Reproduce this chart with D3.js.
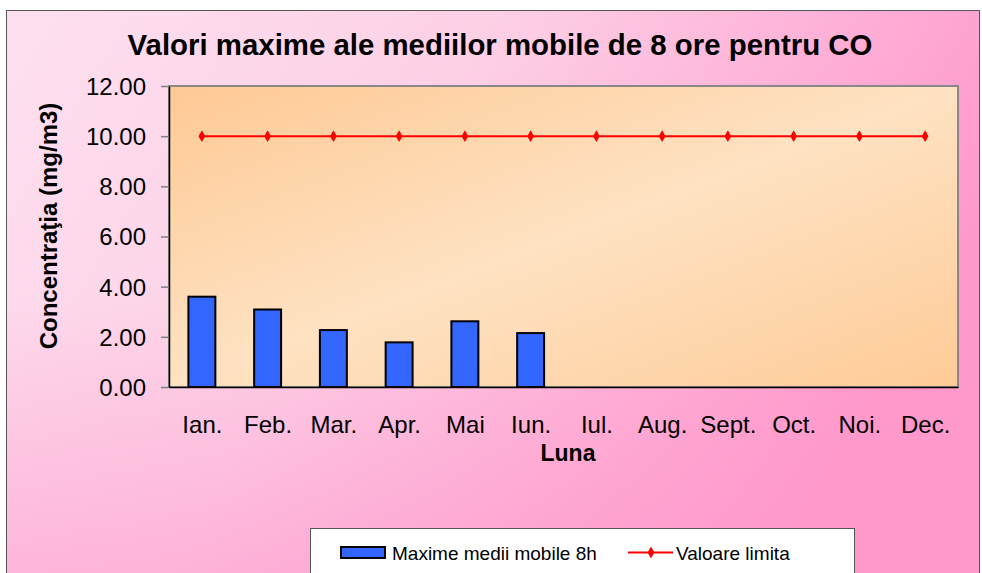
<!DOCTYPE html>
<html><head><meta charset="utf-8">
<script src="https://cdn.jsdelivr.net/npm/d3@7"></script>
<style>body{margin:0;background:#fff}svg{display:block}</style>
</head><body>
<svg id="c" width="982" height="573"></svg>
<script>
const months = ["Ian.","Feb.","Mar.","Apr.","Mai","Iun.","Iul.","Aug.","Sept.","Oct.","Noi.","Dec."];
const maxValues = [3.60, 3.09, 2.27, 1.78, 2.62, 2.15, null, null, null, null, null, null];
const limitValues = [10,10,10,10,10,10,10,10,10,10,10,10];
const yTicks = [0,2,4,6,8,10,12];
const title = "Valori maxime ale mediilor mobile de 8 ore pentru CO";
const yTitle = "Concentraţia (mg/m3)";
const xTitle = "Luna";
const legendLabels = ["Maxime medii mobile 8h","Valoare limita"];

const FONT = "Liberation Sans, Arial, sans-serif";
const svg = d3.select("#c");
const defs = svg.append("defs");
const bg = defs.append("linearGradient").attr("id","bg").attr("x1","0").attr("y1","0").attr("x2","1").attr("y2","0.35");
bg.append("stop").attr("offset","0").attr("stop-color","#fde0ef");
bg.append("stop").attr("offset","0.45").attr("stop-color","#fdd0e6");
bg.append("stop").attr("offset","1").attr("stop-color","#ff99cc");
const bg2 = defs.append("linearGradient").attr("id","bg2").attr("x1","0").attr("y1","0").attr("x2","0").attr("y2","1");
bg2.append("stop").attr("offset","0.5").attr("stop-color","#ff99cc").attr("stop-opacity",0);
bg2.append("stop").attr("offset","1").attr("stop-color","#ff99cc").attr("stop-opacity",0.55);
const pg = defs.append("linearGradient").attr("id","pg").attr("x1","0").attr("y1","0").attr("x2","1").attr("y2","1");
pg.append("stop").attr("offset","0").attr("stop-color","#ffc995");
pg.append("stop").attr("offset","0.5").attr("stop-color","#fee2c2");
pg.append("stop").attr("offset","1").attr("stop-color","#ffcb98");

svg.append("rect").attr("x",6.5).attr("y",10.5).attr("width",973).attr("height",575).attr("fill","url(#bg)");
svg.append("rect").attr("x",6.5).attr("y",10.5).attr("width",973).attr("height",575).attr("fill","url(#bg2)");
svg.append("rect").attr("x",6.5).attr("y",10.5).attr("width",973).attr("height",575).attr("fill","none").attr("stroke","#555").attr("stroke-width",1);

const m = {l:169, r:958, t:86, b:387};
const x = d3.scaleBand().domain(months).range([m.l, m.r]).paddingInner(0.59).paddingOuter(0.295);
const xc = d3.scalePoint().domain(months).range([m.l, m.r]).padding(0.5);
const y = d3.scaleLinear().domain([0,12]).range([m.b, m.t]);

svg.append("rect").attr("x",m.l).attr("y",m.t).attr("width",m.r-m.l).attr("height",m.b-m.t)
  .attr("fill","url(#pg)").attr("stroke","#888").attr("stroke-width",2);

svg.append("g").selectAll("rect").data(months.map((mo,i)=>({mo,v:maxValues[i]})).filter(d=>d.v!=null))
  .join("rect")
  .attr("x",d=>x(d.mo)).attr("width",x.bandwidth())
  .attr("y",d=>y(d.v)).attr("height",d=>y(0)-y(d.v))
  .attr("fill","#3366ff").attr("stroke","#000").attr("stroke-width",2);

const ya = svg.append("g").attr("transform",`translate(${m.l},0)`)
  .call(d3.axisLeft(y).tickValues(yTicks).tickFormat(d3.format(".2f")).tickSize(8).tickSizeOuter(0));
ya.select(".domain").attr("stroke","#000").attr("stroke-width",1.5);
ya.selectAll(".tick line").attr("stroke","#808080").attr("stroke-width",1.5);
ya.selectAll("text").attr("font-family",FONT).attr("font-size",24).attr("fill","#000").attr("x",-23).attr("dy","0.35em");

const xa = svg.append("g").attr("transform",`translate(0,${m.b})`)
  .call(d3.axisBottom(xc).tickSize(0).tickSizeOuter(0));
xa.select(".domain").attr("stroke","#000").attr("stroke-width",1.5);
xa.selectAll("text").attr("font-family",FONT).attr("font-size",24).attr("fill","#000").attr("y",46).attr("dy","0");

const line = d3.line().x((d,i)=>xc(months[i])).y(d=>y(d));
svg.append("path").datum(limitValues).attr("d",line).attr("fill","none").attr("stroke","#ff0000").attr("stroke-width",2);
const diamond = d3.symbol().type(d3.symbolDiamond).size(40);
svg.append("g").selectAll("path").data(limitValues).join("path")
  .attr("d",diamond).attr("transform",(d,i)=>`translate(${xc(months[i])},${y(d)})`).attr("fill","#ff0000");

svg.append("text").attr("x",500).attr("y",55).attr("text-anchor","middle")
  .attr("font-family",FONT).attr("font-weight","bold").attr("font-size",29.4)
  .text(title);
svg.append("text").attr("transform","translate(57,226) rotate(-90)").attr("text-anchor","middle")
  .attr("font-family",FONT).attr("font-weight","bold").attr("font-size",24)
  .text(yTitle);
svg.append("text").attr("x",568).attr("y",461).attr("text-anchor","middle")
  .attr("font-family",FONT).attr("font-weight","bold").attr("font-size",23)
  .text(xTitle);

svg.append("rect").attr("x",310.5).attr("y",528.5).attr("width",544).attr("height",60).attr("fill","#fff").attr("stroke","#555").attr("stroke-width",1);
svg.append("rect").attr("x",341).attr("y",547).attr("width",44).attr("height",11).attr("fill","#3366ff").attr("stroke","#000").attr("stroke-width",2);
svg.append("text").attr("x",392).attr("y",560).attr("font-family",FONT).attr("font-size",19).text(legendLabels[0]);
svg.append("line").attr("x1",628).attr("x2",673).attr("y1",552.5).attr("y2",552.5).attr("stroke","#ff0000").attr("stroke-width",2);
svg.append("path").attr("d",diamond).attr("transform","translate(651,552.5)").attr("fill","#ff0000");
svg.append("text").attr("x",676).attr("y",560).attr("font-family",FONT).attr("font-size",19).text(legendLabels[1]);
</script>
</body></html>
